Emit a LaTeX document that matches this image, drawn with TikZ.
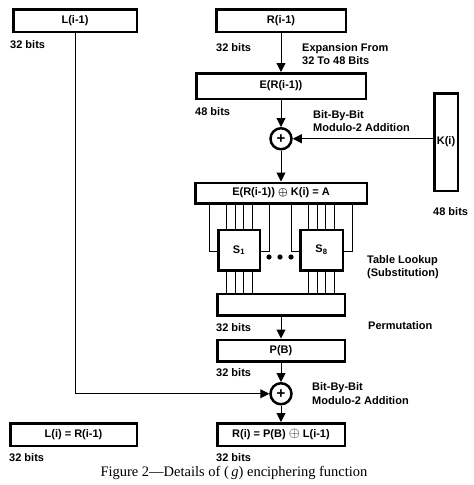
\documentclass[tikz,border=0pt]{standalone}
\usepackage{fontspec}
\setmainfont{Liberation Serif}
\setsansfont{Liberation Sans}
\usetikzlibrary{positioning, arrows.meta, calc}

\begin{document}
\begin{tikzpicture}[x=1pt, y=1pt, font=\sffamily\bfseries\fontsize{11}{13.5}\selectfont]
    \tikzstyle{box} = [rectangle, draw=black, line width=2.5pt, minimum height=22.5pt, inner sep=0pt, text centered]
    \tikzstyle{xor} = [circle, draw=black, line width=2.5pt, minimum size=21pt, inner sep=0pt, font=\sffamily\bfseries\fontsize{15}{15}\selectfont]
    \tikzstyle{bits} = [inner sep=0pt]
    \tikzstyle{note} = [inner sep=0pt, align=left]
    \tikzstyle{arrow} = [line width=1pt, -{Triangle[length=9pt,width=9pt]}]
    \tikzstyle{wire} = [line width=1pt]

    \useasboundingbox (0,0) rectangle (474,-485);

    % Inputs
    \node (lin) [box, minimum width=123.5pt] at (75,-20.5) {L(i-1)};
    \node (rin) [box, minimum width=129.5pt] at (281,-20.5) {R(i-1)};

    % Expansion and key addition
    \node (exp) [box, minimum width=169.5pt, minimum height=25.5pt, below=39pt of rin] {E(R(i-1))};
    \node (xor1) [xor, below=27pt of exp] {+};
    \node (key) [box, minimum width=23.5pt, minimum height=97.5pt] at (446,-142) {K(i)};
    \node (ablk) [box, minimum width=171.5pt, minimum height=20.5pt, below=31pt of xor1] {E(R(i-1)) {\boldmath$\oplus$} K(i) = A};

    % S-boxes
    \node (s1) [box, minimum width=41.5pt, minimum height=40.5pt, below right=24pt and 23pt of ablk.south west] {S\textsubscript{1}};
    \node (s8) [box, minimum width=42.5pt, minimum height=40.5pt, right=38pt of s1] {S\textsubscript{8}};

    % Permutation and output
    \node (perm) [box, minimum width=127.5pt, minimum height=21.5pt, below=88pt of ablk] {};
    \node (pbox) [box, minimum width=127.5pt, minimum height=21.5pt, below=22pt of perm] {P(B)};
    \node (xor2) [xor, below=19.5pt of pbox] {+};
    \node (rout) [box, minimum width=127.5pt, below=16.5pt of xor2] {R(i) = P(B) \scalebox{1.3}{$\oplus$} L(i-1)};
    \node (lout) [box, minimum width=126.5pt, left=78pt of rout] {L(i) = R(i-1)};

    % Labels
    \node (linbits) [bits, below right=7pt and -2pt of lin.south west] {32 bits};
    \node (rinbits) [bits, below right=10pt and 1pt of rin.south west] {32 bits};
    \node (expbits) [bits, below right=7pt and 0pt of exp.south west] {48 bits};
    \node (keybits) [bits, below right=15pt and 0pt of key.south west] {48 bits};
    \node (permbits) [bits, below right=7pt and 0pt of perm.south west] {32 bits};
    \node (pbits) [bits, below right=6pt and 0pt of pbox.south west] {32 bits};
    \node (routbits) [bits, below right=6pt and 0pt of rout.south west] {32 bits};
    \node (loutbits) [bits, below right=6pt and 0pt of lout.south west] {32 bits};

    \node (expnote) [note, below right=10pt and 21pt of rin.south] {Expansion From\\32 To 48 Bits};
    \node (addnote1) [note, below right=10pt and 32pt of exp.south] {Bit-By-Bit\\Modulo-2 Addition};
    \node (subnote) [note, below right=5pt and 23pt of s8.east] {Table Lookup\\(Substitution)};
    \node (permnote) [note, below right=5pt and 22pt of perm.south east] {Permutation};
    \node (addnote2) [note, below right=20pt and 31pt of pbox.south] {Bit-By-Bit\\Modulo-2 Addition};

    \node (caption) [font=\rmfamily\fontsize{14.5}{16}\selectfont, inner sep=0pt, anchor=base] at (234,-476) {Figure 2---Details of (\,\textit{g}) enciphering function};

    % Connections
    \draw [arrow] (rin) -- (exp);
    \draw [arrow] (exp) -- (xor1);
    \draw [arrow] (key.west |- xor1) -- (xor1);
    \draw [arrow] (xor1) -- (ablk);
    \draw [arrow] (perm) -- (pbox);
    \draw [arrow] (pbox) -- (xor2);
    \draw [arrow] (xor2) -- (rout);
    \draw [arrow] (lin) |- (xor2);

    % S-box wiring
    \foreach \s in {s1,s8} {
        \foreach \dx in {9,18,26,35} {
            \draw [wire] ([xshift=\dx pt]\s.north west) -- ([xshift=\dx pt]\s.north west |- ablk.south);
            \draw [wire] ([xshift=\dx pt]\s.south west) -- ([xshift=\dx pt]\s.south west |- perm.north);
        }
        \draw [wire] ([yshift=-23pt]\s.north west) -| ([xshift=-8pt]\s.north west |- ablk.south);
        \draw [wire] ([yshift=-23pt]\s.north east) -| ([xshift=8pt]\s.north east |- ablk.south);
    }
    \foreach \dx in {-11,0,11}
        \fill ($(s1.east)!0.5!(s8.west)+(\dx,-7)$) circle (2.6pt);
\end{tikzpicture}
\end{document}
